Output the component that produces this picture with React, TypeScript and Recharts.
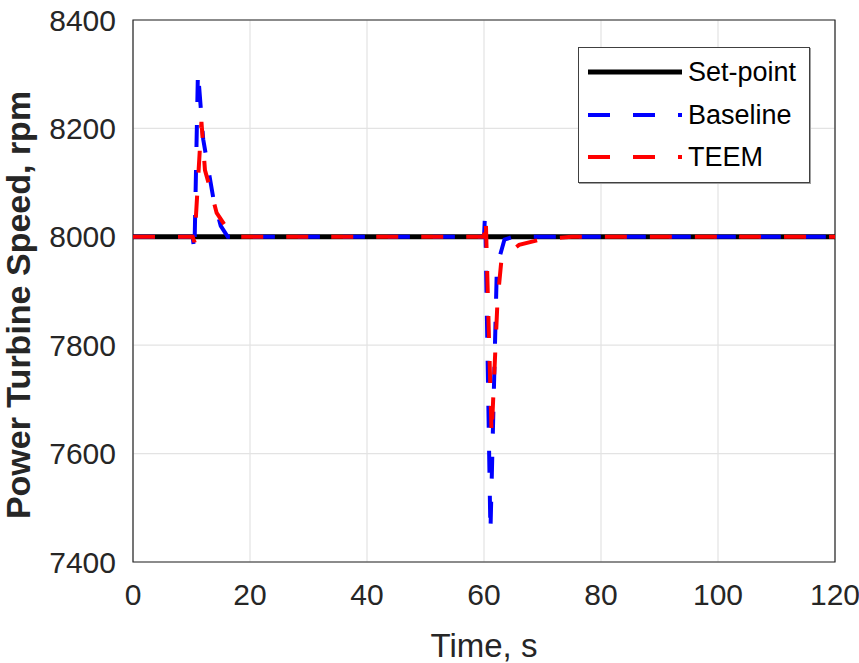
import React from 'react';
import { LineChart, Line, XAxis, YAxis, CartesianGrid, ReferenceArea, Legend } from 'recharts';

const setpointTime = [0, 120];
const setpointSpeed = [8000, 8000];

const baselineTime = [0, 10.2, 10.5, 11.1, 12.0, 13.7, 15.0, 16.2, 60.0, 60.2, 61.1, 62.2, 63.5, 65.0, 120];
const baselineSpeed = [8000, 8000, 7972, 8305, 8180, 8073, 8020, 8000, 8000, 8046, 7455, 7945, 7995, 8000, 8000];

const teemTime = [0, 10.2, 10.5, 11.7, 12.3, 13.4, 14.3, 16.3, 17.5, 60.0, 60.3, 61.3, 62.3, 63.0, 66.0, 70.0, 75.0, 100.0, 101.0, 104.0, 120];
const teemSpeed = [8000, 8000, 7990, 8212, 8123, 8081, 8044, 8012, 8000, 8000, 8035, 7634, 7880, 7960, 7985, 7996, 8000, 8000, 8005, 8000, 8000];

const xTicks = [0, 20, 40, 60, 80, 100, 120];
const yTicks = [7400, 7600, 7800, 8000, 8200, 8400];

const seriesNames = ['Set-point', 'Baseline', 'TEEM'];
const seriesColors = ['#000000', '#0000ff', '#ff0000'];

const zip = (t: number[], v: number[]) => t.map((x, i) => ({ t: x, v: v[i] }));

const FONT = '"Liberation Sans", Arial, sans-serif';

const LegendBox = () => (
  <div
    style={{
      width: 232,
      height: 136,
      border: '1.5px solid #404040',
      boxShadow: '1px 1px 0 #a0a0a0',
      background: '#fff',
      position: 'relative',
      fontFamily: FONT,
      fontSize: 27,
      color: '#000',
      boxSizing: 'border-box',
    }}
  >
    {seriesNames.map((name, i) => (
      <div key={name} style={{ position: 'absolute', left: 9, top: 24 + i * 42.5 - 16, height: 32, display: 'flex', alignItems: 'center' }}>
        <svg width={94} height={10} style={{ display: 'block' }}>
          <line
            x1={0}
            y1={5}
            x2={94}
            y2={5}
            stroke={seriesColors[i]}
            strokeWidth={i === 0 ? 5 : 4}
            strokeDasharray={i === 0 ? undefined : '22 23'}
          />
        </svg>
        <span style={{ marginLeft: 6, lineHeight: '32px', whiteSpace: 'nowrap' }}>{name}</span>
      </div>
    ))}
  </div>
);

const YLabel = (props: any) => {
  const { y, height } = props.viewBox;
  return (
    <text
      transform={`translate(30,${y + height / 2 + 14}) rotate(-90)`}
      textAnchor="middle"
      fontFamily={FONT}
      fontSize={34}
      fontWeight="bold"
      fill="#262626"
    >
      Power Turbine Speed, rpm
    </text>
  );
};

export default function App() {
  return (
    <div style={{ position: 'absolute', left: 0, top: 0, background: '#fff' }}>
      <LineChart width={859} height={663} margin={{ top: 20, right: 24, left: 0, bottom: 0 }}>
        <CartesianGrid stroke="#e3e3e3" strokeWidth={1.2} />
        <XAxis
          dataKey="t"
          type="number"
          domain={[0, 120]}
          ticks={xTicks}
          allowDataOverflow
          height={101}
          axisLine={false}
          tickLine={false}
          tickMargin={16}
          tick={{ fontSize: 30, fill: '#262626', fontFamily: FONT }}
          label={{ value: 'Time, s', position: 'insideBottom', offset: 6, fontSize: 33, fill: '#262626', fontFamily: FONT }}
        />
        <YAxis
          type="number"
          domain={[7400, 8400]}
          ticks={yTicks}
          allowDataOverflow
          width={133}
          axisLine={false}
          tickLine={false}
          tickMargin={11}
          tick={{ fontSize: 30, fill: '#262626', fontFamily: FONT }}
          label={<YLabel />}
        />
        <ReferenceArea x1={0} x2={120} y1={7400} y2={8400} fill="none" stroke="#262626" strokeWidth={1.2} ifOverflow="visible" />
        <Line
          data={zip(setpointTime, setpointSpeed)}
          dataKey="v"
          name={seriesNames[0]}
          stroke={seriesColors[0]}
          strokeWidth={5}
          dot={false}
          activeDot={false}
          isAnimationActive={false}
          type="linear"
        />
        <Line
          data={zip(baselineTime, baselineSpeed)}
          dataKey="v"
          name={seriesNames[1]}
          stroke={seriesColors[1]}
          strokeWidth={4}
          strokeDasharray="22 23"
          dot={false}
          activeDot={false}
          isAnimationActive={false}
          type="linear"
        />
        <Line
          data={zip(teemTime, teemSpeed)}
          dataKey="v"
          name={seriesNames[2]}
          stroke={seriesColors[2]}
          strokeWidth={4}
          strokeDasharray="22 23"
          dot={false}
          activeDot={false}
          isAnimationActive={false}
          type="linear"
        />
        <Legend
          layout="horizontal"
          verticalAlign="middle"
          align="center"
          content={<LegendBox />}
          wrapperStyle={{ position: 'absolute', left: 578, top: 47, width: 232, height: 136 }}
        />
      </LineChart>
    </div>
  );
}
